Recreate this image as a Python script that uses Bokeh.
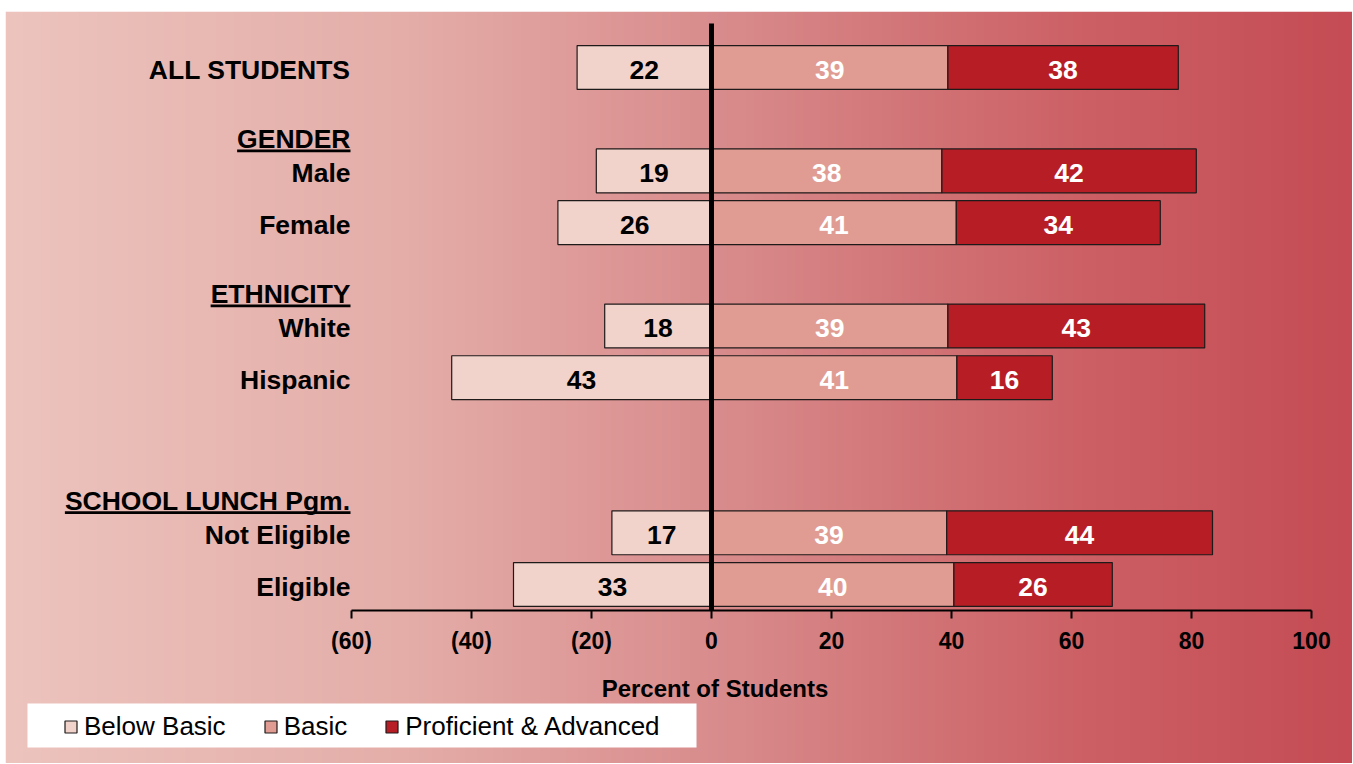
import numpy as np
from bokeh.plotting import figure
from bokeh.models import (Range1d, LinearAxis, FixedTicker, Legend, LegendItem,
                          ColumnDataSource)
from bokeh.core.properties import value
from bokeh.embed import file_html
from bokeh.resources import INLINE

# ---------------- data ----------------
categories = ["ALL STUDENTS", "Male", "Female", "White", "Hispanic",
              "Not Eligible", "Eligible"]
below_basic = [22.4, 19.2, 25.6, 17.8, 43.3, 16.6, 33.0]
basic = [39.4, 38.4, 40.8, 39.4, 40.9, 39.2, 40.4]
proficient = [38.4, 42.4, 34.0, 42.8, 15.9, 44.3, 26.4]
series_names = ["Below Basic", "Basic", "Proficient & Advanced"]
group_headers = ["GENDER", "ETHNICITY", "SCHOOL LUNCH Pgm."]
group_first_member = ["Male", "White", "Not Eligible"]
tick_values = [-60, -40, -20, 0, 20, 40, 60, 80, 100]
tick_labels = ["(60)", "(40)", "(20)", "0", "20", "40", "60", "80", "100"]
axis_title = "Percent of Students"

# ---------------- layout (styling only) ----------------
ROW_SLOT = [10, 8, 7, 5, 4, 1, 0]          # vertical slot of each category row
HEADER_LIFT = 0.65                          # header sits above its first member
BAR_H = 0.85
PAGE_LEFT, PAGE_TOP = 5, 11
FIG_W, FIG_H = 1352, 763
FRAME_W, FRAME_H = FIG_W - PAGE_LEFT, FIG_H - PAGE_TOP
ZERO_PX, PX_PER_X = 711, 6.0
SLOT0_PX, PX_PER_SLOT = 584, 51.7


def fx(px):
    return (px - ZERO_PX) / PX_PER_X


def fy(py):
    return (SLOT0_PX - py) / PX_PER_SLOT


x_start, x_end = fx(PAGE_LEFT), fx(PAGE_LEFT + FRAME_W)
y_start, y_end = fy(PAGE_TOP + FRAME_H), fy(PAGE_TOP)

C_BELOW, C_BASIC, C_PROF = "#F2D3CB", "#E09C93", "#B71D25"
EDGE = "#1f1a1a"
FONT_NAME = "Liberation Sans, Arial, sans-serif"
BOLD_FONT = value(FONT_NAME)

p = figure(frame_width=FRAME_W, frame_height=FRAME_H,
           x_range=Range1d(x_start, x_end), y_range=Range1d(y_start, y_end),
           x_axis_location=None, y_axis_location=None,
           min_border_left=PAGE_LEFT, min_border_right=0,
           min_border_top=PAGE_TOP, min_border_bottom=0,
           toolbar_location=None, output_backend="svg",
           outline_line_color=None, border_fill_color="white")
p.xgrid.visible = False
p.ygrid.visible = False

# background gradient (chart area fill)
stops = [(0.0, (237, 196, 190)), (0.3, (228, 173, 168)), (0.55, (216, 137, 138)),
         (0.8, (204, 96, 101)), (1.0, (197, 76, 84))]
n = FRAME_W
t = np.linspace(0, 1, n)
img = np.zeros((1, n), dtype=np.uint32)
view = img.view(dtype=np.uint8).reshape((1, n, 4))
st = [s[0] for s in stops]
for ch in range(3):
    view[0, :, ch] = np.interp(t, st, [s[1][ch] for s in stops]).astype(np.uint8)
view[0, :, 3] = 255
p.image_rgba(image=[img], x=x_start, y=y_start, dw=x_end - x_start,
             dh=y_end - y_start)

# data source
bb = np.array(below_basic)
ba = np.array(basic)
pr = np.array(proficient)
src = ColumnDataSource(dict(
    cat=categories, slot=ROW_SLOT,
    bb_left=-bb, bb_mid=-bb / 2, bb_lbl=[f"{v:.0f}" for v in bb],
    ba_right=ba, ba_mid=ba / 2, ba_lbl=[f"{v:.0f}" for v in ba],
    pr_left=ba, pr_right=ba + pr, pr_mid=ba + pr / 2,
    pr_lbl=[f"{v:.0f}" for v in pr],
))

r_bb = p.hbar(y="slot", left="bb_left", right=0, height=BAR_H, source=src,
              fill_color=C_BELOW, line_color=EDGE, line_width=1.2)
r_ba = p.hbar(y="slot", left=0, right="ba_right", height=BAR_H, source=src,
              fill_color=C_BASIC, line_color=EDGE, line_width=1.2)
r_pr = p.hbar(y="slot", left="pr_left", right="pr_right", height=BAR_H,
              source=src, fill_color=C_PROF, line_color=EDGE, line_width=1.2)

# zero line
p.segment(x0=0, y0=-0.5, x1=0, y1=fy(23), line_width=5, line_color="black")

# value labels
common = dict(source=src, y="slot", text_align="center", text_baseline="middle",
              text_font=BOLD_FONT, text_font_style="bold",
              text_font_size="26.5px", y_offset=2)
p.text(x="bb_mid", text="bb_lbl", text_color="black", **common)
p.text(x="ba_mid", text="ba_lbl", text_color="white", **common)
p.text(x="pr_mid", text="pr_lbl", text_color="white", **common)

# category labels
LABEL_X = fx(350)
p.text(x=LABEL_X, y="slot", text="cat", source=src, text_align="right",
       text_baseline="middle", text_font=BOLD_FONT, text_font_style="bold",
       text_font_size="26.5px", text_color="black", y_offset=2)

# group headers with underline
AFM_BOLD = {" ": 278, ".": 278, "A": 722, "C": 722, "D": 722, "E": 667,
            "G": 778, "H": 722, "I": 278, "L": 611, "N": 722, "O": 778,
            "P": 667, "R": 722, "S": 667, "T": 611, "U": 722, "Y": 667,
            "g": 611, "m": 889}
HEADER_PX = 26.5
hy = [ROW_SLOT[categories.index(m)] + HEADER_LIFT for m in group_first_member]
hw = [sum(AFM_BOLD.get(c, 600) for c in h) * HEADER_PX / 1000 / PX_PER_X
      for h in group_headers]
hsrc = ColumnDataSource(dict(
    text=group_headers, y=hy,
    x0=[LABEL_X - w for w in hw], x1=[LABEL_X] * len(hw),
    uy=[v - 13.5 / PX_PER_SLOT for v in hy]))
p.text(x=LABEL_X, y="y", text="text", source=hsrc, text_align="right",
       text_baseline="middle", text_font=BOLD_FONT, text_font_style="bold",
       text_font_size="26.5px", text_color="black", y_offset=2)
p.segment(x0="x0", x1="x1", y0="uy", y1="uy", source=hsrc, line_width=2.7,
          line_color="black")

# axis title
p.text(x=[fx(714.5)], y=[fy(686)], text=[axis_title], text_align="center",
       text_baseline="middle", text_font=BOLD_FONT, text_font_style="bold",
       text_font_size="24px", text_color="black", y_offset=2)

# x axis
xaxis = LinearAxis(fixed_location=-0.5, bounds=(-60, 100),
                   ticker=FixedTicker(ticks=tick_values),
                   major_label_overrides=dict(zip(tick_values, tick_labels)))
xaxis.axis_line_width = 2
xaxis.axis_line_color = "black"
xaxis.major_tick_line_width = 2
xaxis.major_tick_line_color = "black"
xaxis.major_tick_out = 8
xaxis.major_tick_in = 0
xaxis.minor_tick_out = 0
xaxis.minor_tick_in = 0
xaxis.major_label_text_font = FONT_NAME
xaxis.major_label_text_font_style = "bold"
xaxis.major_label_text_font_size = "23px"
xaxis.major_label_text_color = "black"
xaxis.major_label_standoff = 10
p.add_layout(xaxis, "below")

# legend background box
p.quad(left=fx(27), right=fx(696), top=fy(703), bottom=fy(747),
       fill_color="white", line_color=None)

legend = Legend(items=[LegendItem(label=series_names[0], renderers=[r_bb]),
                       LegendItem(label=series_names[1], renderers=[r_ba]),
                       LegendItem(label=series_names[2], renderers=[r_pr])],
                orientation="horizontal", location=(58, 21), padding=4,
                spacing=37, label_standoff=6, glyph_width=15, glyph_height=15,
                margin=0, background_fill_alpha=0, border_line_color=None,
                label_text_font=FONT_NAME,
                label_text_font_size="26px", label_text_color="black")
p.add_layout(legend)

open("out.html", "w").write(file_html(p, INLINE))
